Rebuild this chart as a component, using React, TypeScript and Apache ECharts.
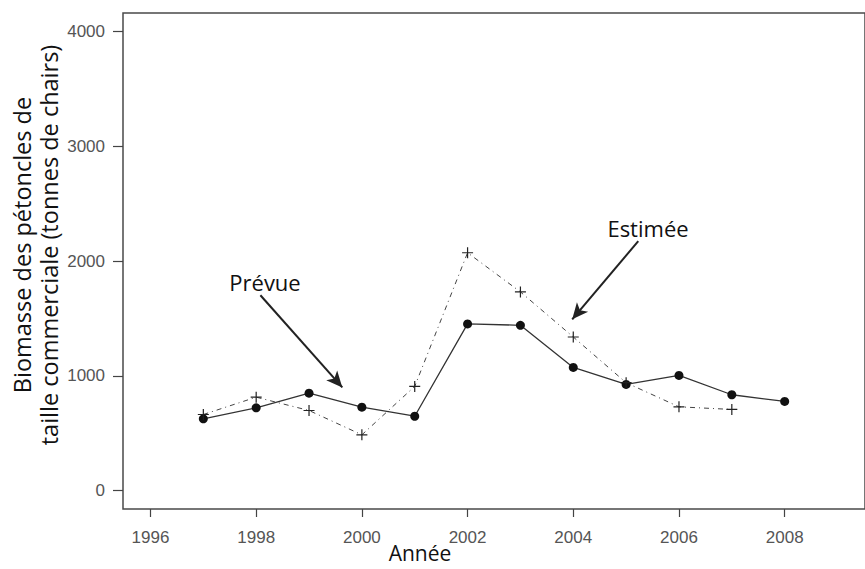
import React, { useEffect, useRef } from "react";
import * as echarts from "echarts";

const years = [1997, 1998, 1999, 2000, 2001, 2002, 2003, 2004, 2005, 2006, 2007, 2008];
const prevue = [625, 721, 849, 727, 648, 1452, 1440, 1073, 925, 1003, 835, 777];
const estimeeYears = [1997, 1998, 1999, 2000, 2001, 2002, 2003, 2004, 2005, 2006, 2007];
const estimee = [663, 814, 698, 486, 908, 2072, 1731, 1338, 940, 730, 707];
const xTicks = [1996, 1998, 2000, 2002, 2004, 2006, 2008];
const yTicks = [0, 1000, 2000, 3000, 4000];
const arrowPrevue = [[1998.08, 1702], [1999.63, 899]];
const arrowEstimee = [[2005.23, 2173], [2003.98, 1492]];

const PLUS = "path://M5,0L5,10M0,5L10,5";

export default function App() {
  const ref = useRef<HTMLDivElement>(null);
  useEffect(() => {
    if (!ref.current) return;
    const chart = echarts.init(ref.current, null, { renderer: "svg" });
    const tickFont = { fontFamily: "Liberation Sans", fontSize: 17, color: "#555" };
    chart.setOption({
      animation: false,
      backgroundColor: "#ffffff",
      grid: {
        left: 123,
        top: 13,
        bottom: 60,
        right: -10,
        show: true,
        borderColor: "#4a4a4a",
        borderWidth: 1.5,
        backgroundColor: "transparent",
      },
      xAxis: {
        type: "value",
        min: 1995.48,
        max: 2009.52,
        axisLine: { show: false, onZero: false },
        splitLine: { show: false },
        axisTick: { show: true, inside: false, length: 8, customValues: xTicks, lineStyle: { color: "#444", width: 1.2 } },
        axisLabel: { customValues: xTicks, margin: 20, ...tickFont, formatter: (v: number) => String(v) },
      },
      yAxis: {
        type: "value",
        min: -160,
        max: 4160,
        axisLine: { show: false, onZero: false },
        splitLine: { show: false },
        axisTick: { show: true, inside: false, length: 10, customValues: yTicks, lineStyle: { color: "#444", width: 1.2 } },
        axisLabel: { customValues: yTicks, margin: 18, ...tickFont, formatter: (v: number) => String(v) },
      },
      series: [
        {
          name: "Prévue",
          type: "line",
          data: years.map((y, i) => [y, prevue[i]]),
          symbol: "circle",
          symbolSize: 9,
          itemStyle: { color: "#111" },
          lineStyle: { color: "#333", width: 1.3, type: "solid" },
          markLine: {
            silent: true,
            symbol: ["none", "arrow"],
            symbolSize: [11, 16],
            label: { show: false },
            lineStyle: { color: "#222", width: 2, type: "solid" },
            data: [
              [{ coord: arrowPrevue[0] }, { coord: arrowPrevue[1] }],
              [{ coord: arrowEstimee[0] }, { coord: arrowEstimee[1] }],
            ],
          },
        },
        {
          name: "Estimée",
          type: "line",
          data: estimeeYears.map((y, i) => [y, estimee[i]]),
          symbol: PLUS,
          symbolSize: 11,
          itemStyle: { color: "transparent", borderColor: "#222", borderWidth: 1.2 },
          lineStyle: { color: "#444", width: 1, type: [5, 4, 1, 4] },
        },
      ],
      graphic: [
        {
          type: "text",
          x: 265,
          y: 282,
          style: { text: "Prévue", fontFamily: "Open Sans", fontSize: 22, fill: "#111", textAlign: "center", textVerticalAlign: "middle" },
        },
        {
          type: "text",
          x: 648,
          y: 228,
          style: { text: "Estimée", fontFamily: "Open Sans", fontSize: 22, fill: "#111", textAlign: "center", textVerticalAlign: "middle" },
        },
        {
          type: "text",
          x: 420,
          y: 553,
          style: { text: "Année", fontFamily: "Open Sans", fontSize: 21, lineHeight: 24, fill: "#111", textAlign: "center", textVerticalAlign: "middle" },
        },
        {
          type: "text",
          x: 35,
          y: 245,
          rotation: Math.PI / 2,
          style: {
            text: "Biomasse des pétoncles de\ntaille commerciale (tonnes de chairs)",
            fontFamily: "Open Sans",
            fontSize: 23.5,
            lineHeight: 27,
            fill: "#111",
            textAlign: "center",
            textVerticalAlign: "middle",
          },
        },
      ],
    });
    return () => chart.dispose();
  }, []);
  return <div ref={ref} style={{ position: "absolute", left: 0, top: 0, width: 865, height: 569 }} />;
}
